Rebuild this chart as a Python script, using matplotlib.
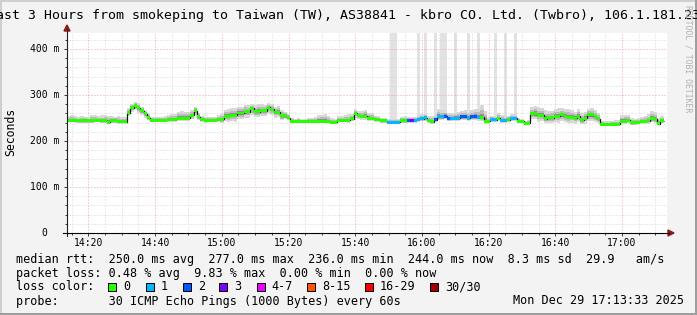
import numpy as np
import matplotlib
matplotlib.use('Agg')
import matplotlib.pyplot as plt
import matplotlib.transforms as mtrans
from matplotlib.patches import Rectangle, Polygon
from matplotlib.lines import Line2D

# smokeping style latency graph, last 3 hours, one value per minute

# median rtt in ms, one per minute from 14:13:33
median = [
    245, 245, 245, 244, 244, 244, 244, 244, 245, 245,
    244, 244, 241, 244, 244, 242, 242, 242, 262, 272,
    277, 272, 266, 259, 251, 245, 245, 245, 245, 245,
    247, 247, 247, 250, 250, 250, 250, 256, 266, 253,
    247, 245, 245, 245, 245, 247, 247, 254, 254, 256,
    256, 261, 261, 264, 264, 271, 264, 264, 266, 266,
    273, 269, 263, 263, 255, 255, 251, 243, 243, 243,
    243, 243, 243, 243, 243, 243, 243, 243, 243, 241,
    241, 245, 245, 245, 245, 249, 260, 256, 254, 254,
    250, 250, 247, 247, 244, 244, 241, 241, 241, 241,
    244, 244, 245, 245, 245, 247, 249, 251, 245, 242,
    246, 253, 253, 254, 249, 250, 250, 250, 253, 253,
    250, 253, 253, 252, 252, 243, 243, 246, 246, 250,
    245, 245, 246, 250, 250, 243, 243, 239, 239, 259,
    259, 256, 256, 249, 251, 251, 254, 254, 257, 254,
    252, 252, 250, 254, 246, 250, 257, 257, 253, 249,
    236, 236, 236, 236, 236, 237, 243, 243, 245, 240,
    240, 241, 243, 243, 244, 249, 247, 238, 244,
]

# lost pings (of 30) per minute, sets the colour of the median
loss = [
    0, 0, 0, 0, 0, 0, 0, 0, 0, 0,
    0, 0, 0, 0, 0, 0, 0, 0, 0, 0,
    0, 0, 0, 0, 0, 0, 0, 0, 0, 0,
    0, 0, 0, 0, 0, 0, 0, 0, 0, 0,
    0, 0, 0, 0, 0, 0, 0, 0, 0, 0,
    0, 0, 0, 0, 0, 0, 0, 0, 0, 0,
    0, 0, 0, 0, 0, 0, 0, 0, 0, 0,
    0, 0, 0, 0, 0, 0, 0, 0, 0, 0,
    0, 0, 0, 0, 0, 0, 0, 0, 0, 0,
    0, 0, 0, 0, 0, 0, 1, 1, 1, 1,
    0, 0, 2, 3, 1, 1, 1, 1, 0, 0,
    2, 1, 1, 2, 2, 1, 1, 1, 2, 2,
    1, 2, 2, 1, 0, 0, 0, 1, 1, 0,
    1, 1, 0, 1, 1, 0, 0, 0, 0, 0,
    0, 0, 0, 0, 0, 0, 0, 0, 0, 0,
    0, 0, 0, 0, 0, 0, 0, 0, 0, 0,
    0, 0, 0, 0, 0, 0, 0, 0, 0, 0,
    0, 0, 0, 0, 0, 0, 0, 0, 0,
]

# minutes (index) whose lost pings show as grey smoke up to the top
lost_smoke = [97, 98, 105, 107, 110, 112, 113, 116, 120, 123, 128, 131, 134]

# smoke: slowest ping above median / fastest ping below median (ms)
smoke_up = [
    10, 12, 9, 8, 11, 9, 8, 13, 12, 10,
    12, 13, 14, 10, 9, 12, 11, 10, 10, 9,
    8, 10, 9, 8, 9, 8, 7, 7, 8, 9,
    10, 12, 11, 13, 15, 14, 13, 11, 8, 9,
    8, 7, 7, 8, 8, 9, 12, 14, 16, 15,
    16, 14, 13, 15, 14, 10, 14, 16, 15, 13,
    10, 12, 11, 14, 12, 9, 8, 8, 6, 7,
    6, 6, 7, 8, 10, 13, 14, 15, 12, 9,
    8, 9, 10, 12, 13, 10, 9, 10, 12, 14,
    12, 10, 8, 7, 6, 7, 8, 7, 7, 8,
    9, 10, 8, 7, 8, 10, 9, 8, 10, 12,
    12, 16, 14, 13, 12, 11, 12, 13, 12, 14,
    13, 14, 16, 18, 26, 22, 10, 9, 8, 10,
    11, 10, 9, 8, 9, 8, 6, 5, 6, 14,
    18, 17, 16, 18, 14, 15, 16, 17, 15, 16,
    17, 15, 14, 16, 15, 14, 13, 15, 14, 12,
    8, 7, 7, 8, 10, 9, 13, 14, 12, 10,
    9, 9, 10, 12, 14, 17, 16, 12, 10,
]
smoke_dn = [
    4, 4, 5, 4, 4, 4, 5, 4, 4, 4,
    4, 5, 3, 4, 4, 3, 3, 3, 8, 8,
    9, 10, 9, 8, 6, 4, 4, 4, 4, 4,
    5, 5, 6, 6, 6, 7, 7, 8, 9, 8,
    6, 5, 4, 4, 4, 6, 8, 10, 12, 12,
    14, 14, 13, 14, 13, 15, 12, 11, 12, 12,
    14, 13, 12, 10, 10, 8, 6, 4, 4, 4,
    4, 4, 4, 4, 4, 4, 4, 4, 4, 3,
    3, 4, 4, 4, 5, 6, 10, 9, 8, 8,
    6, 6, 6, 5, 4, 4, 4, 4, 4, 4,
    4, 5, 5, 5, 5, 6, 6, 7, 5, 4,
    5, 7, 7, 7, 6, 6, 6, 7, 7, 7,
    6, 7, 7, 8, 9, 6, 5, 5, 5, 5,
    5, 5, 5, 6, 6, 4, 4, 3, 4, 10,
    12, 14, 12, 10, 12, 12, 13, 14, 14, 13,
    13, 12, 12, 13, 10, 12, 14, 14, 12, 10,
    4, 4, 4, 4, 4, 5, 6, 6, 6, 5,
    5, 5, 6, 6, 6, 8, 8, 4, 5,
]

loss_labels = ['0', '1', '2', '3', '4-7', '8-15', '16-29', '30/30']
loss_colors = ['#26ff00', '#00b8ff', '#0059ff', '#7e00ff',
               '#ee00ff', '#ff5500', '#ff0000', '#a10000']

x_ticks = [20, 40, 60, 80, 100, 120, 140, 160, 180]  # minutes after 14:00
x_labels = ['14:20', '14:40', '15:00', '15:20', '15:40',
            '16:00', '16:20', '16:40', '17:00']
y_ticks = [0, 100, 200, 300, 400]
y_labels = ['0', '100 m', '200 m', '300 m', '400 m']

title = ('Last 3 Hours from smokeping to Taiwan (TW), AS38841 - kbro CO. Ltd. '
         '(Twbro), 106.1.181.233')
stats_rtt = ('median rtt:  250.0 ms avg  277.0 ms max  236.0 ms min  '
             '244.0 ms now  8.3 ms sd  29.9   am/s')
stats_loss = 'packet loss: 0.48 % avg  9.83 % max  0.00 % min  0.00 % now'
probe = 'probe:       30 ICMP Echo Pings (1000 Bytes) every 60s'
stamp = 'Mon Dec 29 17:13:33 2025'

t_end = 3 * 60 + 13 + 33 / 60  # 17:13:33 in minutes after 14:00
t_start = t_end - 180
y_top = 435

plt.rcParams['font.family'] = ['DejaVu Sans Mono', 'DejaVu Sans']

W, H = 697, 315


def fx(x):
    return x / W


def fy(y):
    return 1 - y / H


def bucket(n):
    if n <= 3:
        return n
    if n <= 7:
        return 4
    if n <= 15:
        return 5
    if n <= 29:
        return 6
    return 7


fig = plt.figure(figsize=(W / 100, H / 100), dpi=100)
fig.patch.set_facecolor('#f3f3f3')
ax = fig.add_axes([fx(67), fy(233), 600 / W, 200 / H])
ax.set_facecolor('white')
ax.set_xlim(t_start, t_end)
ax.set_ylim(0, y_top)

med = np.array(median, dtype=float)
up = np.array(smoke_up, dtype=float)
dn = np.array(smoke_dn, dtype=float)
edges = t_start + np.arange(len(med) + 1)

# grey columns for minutes with lost pings
ls_idx = np.array(lost_smoke)
ax.bar(edges[ls_idx], y_top - med[ls_idx], bottom=med[ls_idx], width=1,
       align='edge', color='#e2e2e2', linewidth=0, zorder=1)

# grid
dots = (0, (1, 2))
for m in np.arange(15, t_end, 5):
    if m % 20:
        ax.axvline(m, color='#d6d6d6', lw=0.72, ls=dots, zorder=1.5)
for v in np.arange(20, y_top, 20):
    if v % 100:
        ax.axhline(v, color='#d6d6d6', lw=0.72, ls=dots, zorder=1.5)
for m in x_ticks:
    ax.axvline(m, color='#eaa2a2', lw=0.72, ls=dots, zorder=1.6)
for v in y_ticks[1:]:
    ax.axhline(v, color='#eaa2a2', lw=0.72, ls=dots, zorder=1.6)

# smoke
for frac, col in [(1.0, '#d8d8d8'), (0.6, '#bababa'), (0.3, '#8e8e8e')]:
    ax.stairs(med + up * frac, edges, baseline=med - dn * frac, fill=True,
              color=col, linewidth=0, zorder=2)

# median line, coloured by loss
ax.stairs(med, edges, baseline=None, color='#111111', lw=0.9, zorder=3)
cols = [loss_colors[bucket(n)] for n in loss]
ax.bar(edges[:-1], 6.5, bottom=med - 3.25, width=1, align='edge',
       color=cols, linewidth=0, zorder=4)

ax.set_xticks(x_ticks)
ax.set_xticks(np.arange(15, t_end, 5), minor=True)
ax.set_yticks(y_ticks)
ax.set_yticks(np.arange(0, y_top, 20), minor=True)
ax.tick_params(which='major', direction='out', length=2.2, width=0.72,
               color='#404040', labelleft=False, labelbottom=False)
ax.tick_params(which='minor', direction='out', length=1.4, width=0.72,
               color='#404040')
for s in ax.spines.values():
    s.set_visible(False)

# tick labels
ytr = mtrans.offset_copy(
    mtrans.blended_transform_factory(fig.transFigure, ax.transData),
    fig=fig, y=-3.4, units='dots')
for v, lab in zip(y_ticks, y_labels):
    fig.text(fx(44.5), v, lab, transform=ytr, ha='center', va='baseline',
             fontsize=7)
xtr = mtrans.blended_transform_factory(ax.transData, fig.transFigure)
for m, lab in zip(x_ticks, x_labels):
    fig.text(m, fy(245.7), lab, transform=xtr, ha='center', va='baseline',
             fontsize=7)

# axes with arrows
fig.add_artist(Line2D([fx(67), fx(67)], [fy(236), fy(30)], color='#202020',
                      lw=0.8))
fig.add_artist(Line2D([fx(63), fx(669)], [fy(233), fy(233)], color='#000000',
                      lw=0.8))
fig.add_artist(Polygon([(fx(64), fy(31)), (fx(70), fy(31)), (fx(67), fy(25))],
                       closed=True, color='#8b1a1a', transform=fig.transFigure))
fig.add_artist(Polygon([(fx(668), fy(230)), (fx(668), fy(236)),
                        (fx(674), fy(233))],
                       closed=True, color='#8b1a1a', transform=fig.transFigure))

# texts
fig.text(fx(348.3), fy(18.5), title, ha='center', va='baseline', fontsize=9.57)
fig.text(fx(10.7), fy(132), 'Seconds', rotation=90, ha='center', va='center',
         fontsize=8.3)
fig.text(fx(688), fy(59), 'RRDTOOL / TOBI OETIKER', rotation=-90,
         ha='center', va='center', fontsize=5.9, color='#b0b0b0')

fig.text(fx(16), fy(262.5), stats_rtt, va='baseline', fontsize=8.5)
fig.text(fx(16), fy(276.5), stats_loss, va='baseline', fontsize=8.5)
fig.text(fx(16), fy(290.5), 'loss color:', va='baseline', fontsize=8.5)
fig.text(fx(16), fy(304.5), probe, va='baseline', fontsize=8.5)
fig.text(fx(512.7), fy(304.5), stamp, va='baseline', fontsize=8.5)

box_x = [108.3, 145.7, 182.7, 219.3, 256.7, 307.3, 365, 430]
for bx, lab, col in zip(box_x, loss_labels, loss_colors):
    fig.add_artist(Rectangle((fx(bx), fy(291.3)), 8 / W, 8 / H,
                             facecolor=col, edgecolor='black', lw=0.72,
                             transform=fig.transFigure))
    fig.text(fx(bx + 15), fy(290.5), lab, va='baseline', fontsize=8.5)


# 3d frame
def strip(x0, y0, x1, y1, col):
    fig.add_artist(Rectangle((fx(x0), fy(y1)), (x1 - x0) / W, (y1 - y0) / H,
                             facecolor=col, edgecolor='none',
                             transform=fig.transFigure))


strip(0, 0, W, 2, '#cfcfcf')
strip(0, 0, 2, H, '#cfcfcf')
strip(0, H - 2, W, H, '#9e9e9e')
strip(W - 2, 0, W, H, '#9e9e9e')

fig.savefig('out.png', dpi=100, facecolor=fig.get_facecolor())
